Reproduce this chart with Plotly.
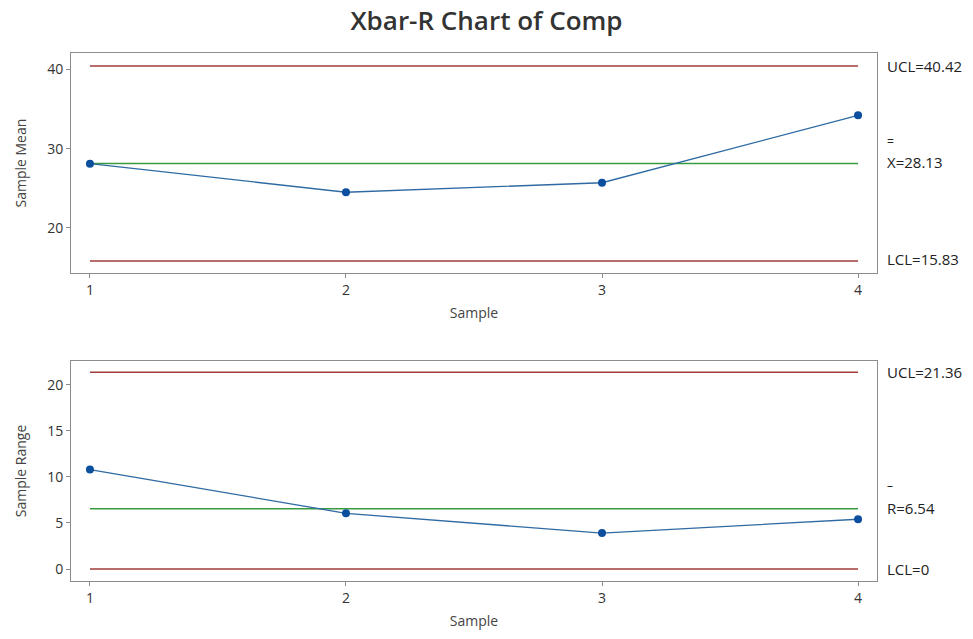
import plotly.graph_objects as go
from plotly.subplots import make_subplots

# Subgroup statistics
samples = [1, 2, 3, 4]
sample_means = [28.1, 24.5, 25.7, 34.2]
sample_ranges = [10.8, 6.05, 3.9, 5.4]

# Control limits
xbar_ucl, xbar_center, xbar_lcl = 40.42, 28.13, 15.83
r_ucl, r_center, r_lcl = 21.36, 6.54, 0

RED = "#a23b3b"
GREEN = "#3a9a3f"
LINE_BLUE = "#2f6aa3"
DOT_BLUE = "#0b4f9e"
FONT = "Open Sans"

fig = make_subplots(rows=2, cols=1, vertical_spacing=0.166)


def add_panel(row, values, ucl, center, lcl):
    xs = [samples[0], samples[-1]]
    for level, color in ((ucl, RED), (center, GREEN), (lcl, RED)):
        fig.add_trace(go.Scatter(x=xs, y=[level, level], mode="lines",
                                 line=dict(color=color, width=1.5),
                                 hoverinfo="skip", showlegend=False),
                      row=row, col=1)
    fig.add_trace(go.Scatter(x=samples, y=values, mode="lines+markers",
                             line=dict(color=LINE_BLUE, width=1.3),
                             marker=dict(color=DOT_BLUE, size=8),
                             showlegend=False),
                  row=row, col=1)


add_panel(1, sample_means, xbar_ucl, xbar_center, xbar_lcl)
add_panel(2, sample_ranges, r_ucl, r_center, r_lcl)

axis_common = dict(showline=True, mirror=True, linecolor="#8c8c8c", linewidth=1,
                   showgrid=False, zeroline=False, ticks="outside",
                   ticklen=4, tickcolor="#8c8c8c",
                   tickfont=dict(family=FONT, size=14, color="#333333"))

fig.update_xaxes(range=[0.926, 4.074], tickvals=samples,
                 title=dict(text="Sample", font=dict(family=FONT, size=14, color="#444444"),
                            standoff=10),
                 **axis_common)
fig.update_yaxes(title_font=dict(family=FONT, size=14, color="#444444"),
                 title_standoff=17, **axis_common)
fig.update_yaxes(range=[14.3, 42.05], tickvals=[20, 30, 40],
                 title_text="Sample Mean", row=1, col=1)
fig.update_yaxes(range=[-1.3, 22.6], tickvals=[0, 5, 10, 15, 20],
                 title_text="Sample Range", row=2, col=1)

# Control-limit labels to the right of each panel
label_font = dict(family=FONT, size=15, color="#222222")
bar_font = dict(family=FONT, size=12, color="#222222")


def limit_label(text, y, yref, yshift=0, font=label_font):
    fig.add_annotation(text=text, x=1, xref="paper", xanchor="left", xshift=8,
                       y=y, yref=yref, yanchor="middle", yshift=yshift,
                       showarrow=False, font=font)


limit_label(f"UCL={xbar_ucl:.2f}", xbar_ucl, "y")
limit_label("=", xbar_center, "y", yshift=22, font=bar_font)
limit_label(f"X={xbar_center:.2f}", xbar_center, "y", yshift=1)
limit_label(f"LCL={xbar_lcl:.2f}", xbar_lcl, "y", yshift=2)

limit_label(f"UCL={r_ucl:.2f}", r_ucl, "y2")
limit_label("–", r_center, "y2", yshift=23, font=bar_font)
limit_label(f"R={r_center:.2f}", r_center, "y2", yshift=1)
limit_label(f"LCL={r_lcl:g}", r_lcl, "y2")

fig.update_layout(
    width=973, height=639,
    margin=dict(l=71, r=96, t=53, b=58),
    paper_bgcolor="white", plot_bgcolor="white",
    title=dict(text="Xbar-R Chart of Comp", x=0.5, xanchor="center",
               y=0.968, yanchor="middle",
               font=dict(family=FONT, size=26, color="#333333", weight=600)),
)

fig.write_html("out.html")
